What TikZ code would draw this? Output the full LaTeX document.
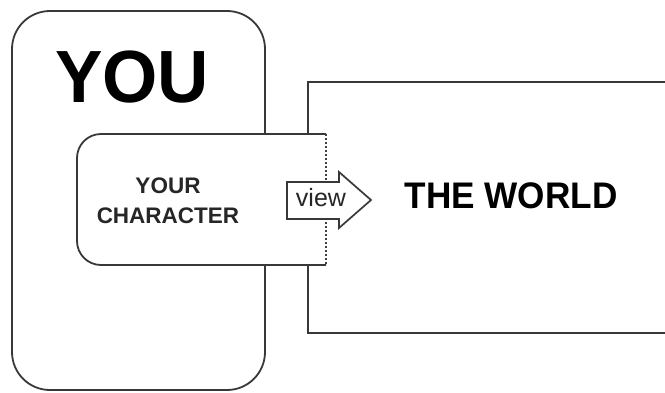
\documentclass[tikz,border=0pt]{standalone}
\usepackage{fontspec}
\setmainfont{Liberation Sans}
\begin{document}
\begin{tikzpicture}[x=1pt,y=-1pt,
  edge/.style={draw=black!78, line width=1.8pt},
  lbl/.style={inner sep=0pt, font=\bfseries, text=black}]
\useasboundingbox (0,0) rectangle (665,392);
% you box
\draw[edge, rounded corners=38pt] (12,11) rectangle (265,390);
% world box
\draw[edge] (308,82) rectangle (700,333);
% character box
\fill[white] (78,135) rectangle (326,265);
\draw[edge, fill=white, rounded corners=24pt] (326,134) -- (77,134) -- (77,265) -- (326,265);
\draw[black!75, line width=1.2pt, dash pattern=on 2pt off 2pt] (326,134) -- (326,265);
% arrow
\draw[edge, fill=white, line width=1.7pt, line join=miter]
  (287,182) -- (339,182) -- (339,172) -- (371,200) -- (339,228) -- (339,219) -- (287,219) -- cycle;
\node[inner sep=0pt, font=\fontsize{25}{25}\selectfont, text=black!85] (view) at (321,198) {view};
% labels
\node[lbl, font=\fontsize{74}{74}\selectfont\bfseries, xscale=0.96] (you) at (132,77) {YOU};
\node[lbl, font=\fontsize{22.5}{30}\selectfont\bfseries, align=center, text=black!85] (char) at (168,201) {YOUR\\CHARACTER};
\node[lbl, font=\fontsize{37}{37}\selectfont\bfseries, xscale=0.95] (world) at (511,196) {THE WORLD};
\end{tikzpicture}
\end{document}
